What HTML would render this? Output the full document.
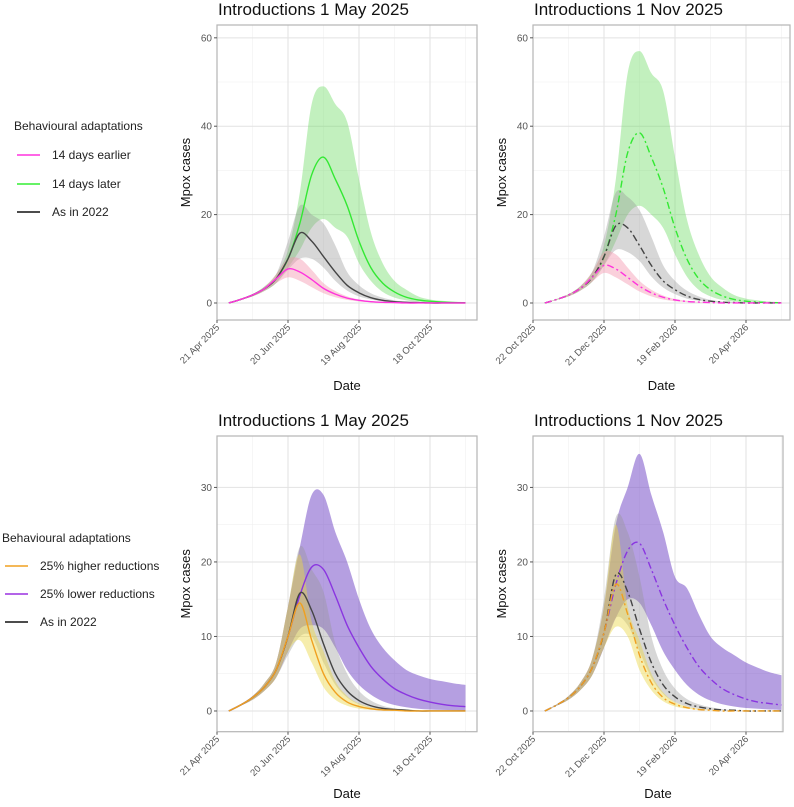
<!DOCTYPE html>
<html><head><meta charset="utf-8"><style>
body{margin:0;background:#fff;font-family:"Liberation Sans",sans-serif;}
</style></head><body>
<svg id="c" width="794" height="802" xmlns="http://www.w3.org/2000/svg" font-family="Liberation Sans, sans-serif">
<g>
<text x="14" y="130" font-size="12" fill="#222">Behavioural adaptations</text>
<line x1="17" y1="155" x2="40" y2="155" stroke="#ff33dd" stroke-width="1.5"/><text x="52" y="159" font-size="12" fill="#222">14 days earlier</text>
<line x1="17" y1="184" x2="40" y2="184" stroke="#33ee33" stroke-width="1.5"/><text x="52" y="188" font-size="12" fill="#222">14 days later</text>
<line x1="17" y1="212" x2="40" y2="212" stroke="#111" stroke-width="1.5"/><text x="52" y="216" font-size="12" fill="#222">As in 2022</text>
</g>
<g>
<text x="2" y="542" font-size="12" fill="#222">Behavioural adaptations</text>
<line x1="5" y1="566" x2="28" y2="566" stroke="#f0a020" stroke-width="1.5"/><text x="40" y="570" font-size="12" fill="#222">25% higher reductions</text>
<line x1="5" y1="594" x2="28" y2="594" stroke="#9a30e0" stroke-width="1.5"/><text x="40" y="598" font-size="12" fill="#222">25% lower reductions</text>
<line x1="5" y1="622" x2="28" y2="622" stroke="#111" stroke-width="1.5"/><text x="40" y="626" font-size="12" fill="#222">As in 2022</text>
</g>
</svg>
<script>
// sample times: days since introduction (every 10 days)
const tDays=[0,10,20,30,40,50,60,70,80,90,100,110,120,130,140,150,160,170,180,190,200];
// Top-left (May 2025)
const tlGreenMed=[0,0.8,1.8,3.2,5.5,10,18,29,33,28,22,14,8,4.5,2.5,1.3,0.7,0.4,0.2,0.1,0.05];
const tlGreenLo=[0,0.7,1.5,2.7,4.5,8,12,17,19,17,15,9,5,2.5,1.2,0.6,0.3,0.15,0.1,0,0];
const tlGreenHi=[0,0.9,2,3.7,6.5,12,25,45,49,45,41,28,16,9,5,3,1.5,0.8,0.5,0.3,0.2];
const tlBlackMed=[0,0.8,1.8,3.2,5.5,10,15.8,14,10.5,7,4,2.3,1.2,0.6,0.3,0.15,0.1,0,0,0,0];
const tlBlackLo=[0,0.7,1.5,2.7,4.5,7.5,10,10,8,5,2.8,1.5,0.8,0.4,0.2,0.1,0,0,0,0,0];
const tlBlackHi=[0,0.9,2,3.7,6.5,14,22,20,18,13,7,4,2.2,1.2,0.6,0.3,0.15,0.1,0,0,0];
const tlPinkMed=[0,0.8,1.8,3.2,5.5,7.7,7,5.3,3.3,2,1.1,0.6,0.3,0.15,0.1,0,0,0,0,0,0];
const tlPinkLo=[0,0.7,1.5,2.7,4.5,5.8,5,3.6,2.2,1.3,0.7,0.35,0.2,0.1,0,0,0,0,0,0,0];
const tlPinkHi=[0,0.9,2,3.6,6.5,10,10,7.5,4.5,2.7,1.5,0.8,0.4,0.2,0.1,0,0,0,0,0,0];
// Top-right (Nov 2025)
const trGreenMed=[0,0.8,1.8,3.3,5.8,10.5,20,34,38.5,33,26,17,10,5.5,3,1.6,0.8,0.4,0.2,0.1,0.05];
const trGreenLo=[0,0.7,1.5,2.8,4.8,8.5,14,20,22,20,17,11,6,3,1.5,0.7,0.3,0.15,0.1,0,0];
const trGreenHi=[0,0.9,2,3.8,7,13,28,52,57,52,48,33,19,11,6,3.5,1.8,1,0.6,0.3,0.2];
const trBlackMed=[0,0.8,1.8,3.3,5.8,10.5,17.5,17,13,8.5,5,3,1.6,0.8,0.4,0.2,0.1,0,0,0,0];
const trBlackLo=[0,0.7,1.5,2.8,4.8,8.5,12,11.5,9.5,6,3.5,2,1,0.5,0.25,0.1,0,0,0,0,0];
const trBlackHi=[0,0.9,2,3.8,7,15,25,24,21,15,8.5,5,2.8,1.5,0.7,0.35,0.2,0.1,0,0,0];
const trPinkMed=[0,0.8,1.8,3.3,5.8,8.5,7.7,5.8,3.8,2.3,1.3,0.7,0.35,0.2,0.1,0,0,0,0,0,0];
const trPinkLo=[0,0.7,1.5,2.8,4.8,6.8,5.8,4.2,2.6,1.5,0.8,0.4,0.2,0.1,0,0,0,0,0,0,0];
const trPinkHi=[0,0.9,2,3.8,7,11.5,11,8,5,3,1.7,0.9,0.5,0.25,0.1,0,0,0,0,0,0];
// Bottom-left (May 2025)
const blPurpleMed=[0,0.8,1.8,3.2,5.5,10,15.5,19.3,19,15.5,11.5,8.5,6,4.3,3,2.2,1.6,1.2,0.9,0.7,0.6];
const blPurpleLo=[0,0.7,1.5,2.7,4.5,8,11,11.5,11,8.5,5.5,3.5,2.2,1.3,0.8,0.5,0.3,0.2,0.15,0.1,0.05];
const blPurpleHi=[0,0.9,2,3.7,6.5,14,22,29,29,24,20,15,11,8.5,6.8,5.5,4.8,4.3,4,3.7,3.5];
const blOrangeMed=[0,0.8,1.8,3.2,5.5,10,14.5,9.5,5,2.5,1.2,0.6,0.3,0.15,0.1,0,0,0,0,0,0];
const blOrangeLo=[0,0.7,1.5,2.7,4.5,8,9.5,6.5,3.2,1.5,0.7,0.3,0.15,0.1,0,0,0,0,0,0,0];
const blOrangeHi=[0,0.9,2,3.7,6.5,14,21,12,8,4,2,1,0.5,0.25,0.1,0,0,0,0,0,0];
const blBlackMed=[0,0.8,1.8,3.2,5.5,10,15.8,13.5,9,5,2.7,1.4,0.7,0.35,0.2,0.1,0,0,0,0,0];
const blBlackLo=[0,0.7,1.5,2.7,4.5,7.5,10,10,6.5,3.5,1.8,0.9,0.45,0.2,0.1,0,0,0,0,0,0];
const blBlackHi=[0,0.9,2,3.7,6.5,14,22,19,16,9,5,2.7,1.4,0.7,0.35,0.2,0.1,0,0,0,0];
// Bottom-right (Nov 2025)
const brPurpleMed=[0,0.8,1.8,3.3,5.8,10.5,17,21.5,22.5,19,15,11.5,8.5,6,4.3,3,2.2,1.6,1.2,1,0.8];
const brPurpleLo=[0,0.7,1.5,2.8,4.8,8.5,12.5,15,14.5,11.5,8,5.5,3.5,2.2,1.4,0.9,0.6,0.4,0.3,0.2,0.15];
const brPurpleHi=[0,0.9,2,3.8,7,14,25,30,34.5,29,24,18,16.5,13,10,8.5,7.5,6.5,5.8,5.2,4.8];
const brOrangeMed=[0,0.8,1.8,3.3,5.8,10.5,17,13,7.5,3.8,1.8,0.9,0.45,0.2,0.1,0,0,0,0,0,0];
const brOrangeLo=[0,0.7,1.5,2.8,4.8,8.5,11.3,10,5.5,2.8,1.3,0.6,0.3,0.15,0.1,0,0,0,0,0,0];
const brOrangeHi=[0,0.9,2,3.8,7,14,25,14,9.5,5,2.5,1.2,0.6,0.3,0.15,0,0,0,0,0,0];
const brBlackMed=[0,0.8,1.8,3.3,5.8,10.5,18.3,16,11,6.5,3.5,1.9,1,0.55,0.3,0.15,0.1,0,0,0,0];
const brBlackLo=[0,0.7,1.5,2.8,4.8,8.5,12.5,11.5,8,4.5,2.3,1.2,0.6,0.3,0.15,0.1,0,0,0,0,0];
const brBlackHi=[0,0.9,2,3.8,7,15,26,24,18,10,5.5,3,1.6,0.9,0.5,0.25,0.1,0,0,0,0];
const xTicksMay=["21 Apr 2025","20 Jun 2025","19 Aug 2025","18 Oct 2025"];
const xTicksNov=["22 Oct 2025","21 Dec 2025","19 Feb 2026","20 Apr 2026"];
const yTicksTop=[0,20,40,60];
const yTicksBot=[0,10,20,30];

const NS="http://www.w3.org/2000/svg";
const svg=document.getElementById('c');
function mk(tag,attrs,parent){const e=document.createElementNS(NS,tag);for(const k in attrs)e.setAttribute(k,attrs[k]);(parent||svg).appendChild(e);return e;}
// smooth path through points (Catmull-Rom -> Bezier)
function smooth(P,start){
  let d=start?"M"+P[0][0]+","+P[0][1]:"L"+P[0][0]+","+P[0][1];
  for(let i=0;i<P.length-1;i++){
    const p0=P[Math.max(0,i-1)],p1=P[i],p2=P[i+1],p3=P[Math.min(P.length-1,i+2)];
    const c1=[p1[0]+(p2[0]-p0[0])/6,p1[1]+(p2[1]-p0[1])/6];
    const c2=[p2[0]-(p3[0]-p1[0])/6,p2[1]-(p3[1]-p1[1])/6];
    d+=` C${c1[0]},${c1[1]} ${c2[0]},${c2[1]} ${p2[0]},${p2[1]}`;
  }
  return d;
}

const C={pink:["#ff33dd","rgba(245,150,175,0.45)"],green:["#33e833","rgba(110,220,100,0.42)"],black:["#444","rgba(150,150,150,0.38)"],
purple:["#8a35e0","rgba(120,80,200,0.55)"],orange:["#f0a020","rgba(235,215,70,0.45)"]};

function panel(p){
  const g=mk('g',{});
  
  
  const {x0,x1,y0,y1,ymin,ymax,pxDay,startDay}=p;
  const X=d=>x0+d*pxDay;
  const Y=v=>y1-(v-ymin)/(ymax-ymin)*(y1-y0);
  const minorY=[];for(let i=0;i<p.yTicks.length-1;i++)minorY.push((p.yTicks[i]+p.yTicks[i+1])/2);
  minorY.forEach(v=>mk('line',{x1:x0,x2:x1,y1:Y(v),y2:Y(v),stroke:"#f0f0f0","stroke-width":0.6},g));
  for(let i=0;i<5;i++){const d=i*60+30;if(X(d)<x1)mk('line',{x1:X(d),x2:X(d),y1:y0,y2:y1,stroke:"#f0f0f0","stroke-width":0.6},g);}
  p.yTicks.forEach(v=>mk('line',{x1:x0,x2:x1,y1:Y(v),y2:Y(v),stroke:"#e2e2e2","stroke-width":1},g));
  p.xTicks.forEach((s,i)=>mk('line',{x1:X(i*60),x2:X(i*60),y1:y0,y2:y1,stroke:"#e2e2e2","stroke-width":1},g));
  p.series.forEach(s=>{
    const hi=tDays.map((t,i)=>[X(startDay+t),Y(s.hi[i])]);
    const lo=tDays.map((t,i)=>[X(startDay+t),Y(s.lo[i])]).reverse();
    const band=mk('path',{d:smooth(hi,true)+" "+smooth(lo,false)+" Z",fill:C[s.c][1],stroke:"none"},g);
    
    
  });
  p.series.forEach(s=>{
    const pts=tDays.map((t,i)=>[X(startDay+t),Y(s.med[i])]);
    const a={d:smooth(pts,true),fill:"none",stroke:C[s.c][0],"stroke-width":1.4};
    if(p.dash)a["stroke-dasharray"]="7,3,2,3";
    const ln=mk('path',a,g);
    
    
  });
  mk('rect',{x:x0,y:y0,width:x1-x0,height:y1-y0,fill:"none",stroke:"#b5b5b5","stroke-width":1.2},g);
  p.yTicks.forEach(v=>{
    mk('line',{x1:x0-3,x2:x0,y1:Y(v),y2:Y(v),stroke:"#555"},g);
    const t=mk('text',{x:x0-5,y:Y(v)+3.5,"text-anchor":"end","font-size":10,fill:"#555"},g);t.textContent=v;
    
    
  });
  p.xTicks.forEach((s,i)=>{
    const xx=X(i*60);
    mk('line',{x1:xx,x2:xx,y1:y1,y2:y1+3,stroke:"#555"},g);
    const t=mk('text',{x:xx+3,y:y1+8,"text-anchor":"end","font-size":9.5,fill:"#555",transform:`rotate(-45 ${xx+3} ${y1+8})`},g);t.textContent=s;
    
    
  });
  const ti=mk('text',{x:x0+1,y:y0-10,"font-size":17,fill:"#111"},g);ti.textContent=p.title;
  
  
  const yt=mk('text',{x:0,y:0,"font-size":13,fill:"#111","text-anchor":"middle",transform:`translate(${x0-27},${(y0+y1)/2}) rotate(-90)`},g);yt.textContent="Mpox cases";
  
  
  const xt=mk('text',{x:(x0+x1)/2,y:p.xTitleY,"font-size":13,fill:"#111","text-anchor":"middle"},g);xt.textContent="Date";
  
  
}
const pxDay=71/60;
panel({name:"panel-top-left",title:"Introductions 1 May 2025",x0:217,x1:477,y0:25,y1:320,ymin:-3.85,ymax:62.9,pxDay,startDay:10,xTicks:xTicksMay,yTicks:yTicksTop,xTitleY:390,dash:false,
 series:[{c:"green",med:tlGreenMed,lo:tlGreenLo,hi:tlGreenHi},{c:"black",med:tlBlackMed,lo:tlBlackLo,hi:tlBlackHi},{c:"pink",med:tlPinkMed,lo:tlPinkLo,hi:tlPinkHi}]});
panel({name:"panel-top-right",title:"Introductions 1 Nov 2025",x0:533,x1:790,y0:25,y1:320,ymin:-3.85,ymax:62.9,pxDay,startDay:10,xTicks:xTicksNov,yTicks:yTicksTop,xTitleY:390,dash:true,
 series:[{c:"green",med:trGreenMed,lo:trGreenLo,hi:trGreenHi},{c:"black",med:trBlackMed,lo:trBlackLo,hi:trBlackHi},{c:"pink",med:trPinkMed,lo:trPinkLo,hi:trPinkHi}]});
panel({name:"panel-bottom-left",title:"Introductions 1 May 2025",x0:217,x1:477,y0:436,y1:731.7,ymin:-2.78,ymax:36.9,pxDay,startDay:10,xTicks:xTicksMay,yTicks:yTicksBot,xTitleY:798,dash:false,
 series:[{c:"purple",med:blPurpleMed,lo:blPurpleLo,hi:blPurpleHi},{c:"black",med:blBlackMed,lo:blBlackLo,hi:blBlackHi},{c:"orange",med:blOrangeMed,lo:blOrangeLo,hi:blOrangeHi}]});
panel({name:"panel-bottom-right",title:"Introductions 1 Nov 2025",x0:533,x1:783,y0:436,y1:731.7,ymin:-2.78,ymax:36.9,pxDay,startDay:10,xTicks:xTicksNov,yTicks:yTicksBot,xTitleY:798,dash:true,
 series:[{c:"purple",med:brPurpleMed,lo:brPurpleLo,hi:brPurpleHi},{c:"black",med:brBlackMed,lo:brBlackLo,hi:brBlackHi},{c:"orange",med:brOrangeMed,lo:brOrangeLo,hi:brOrangeHi}]});
</script>
</body></html>
